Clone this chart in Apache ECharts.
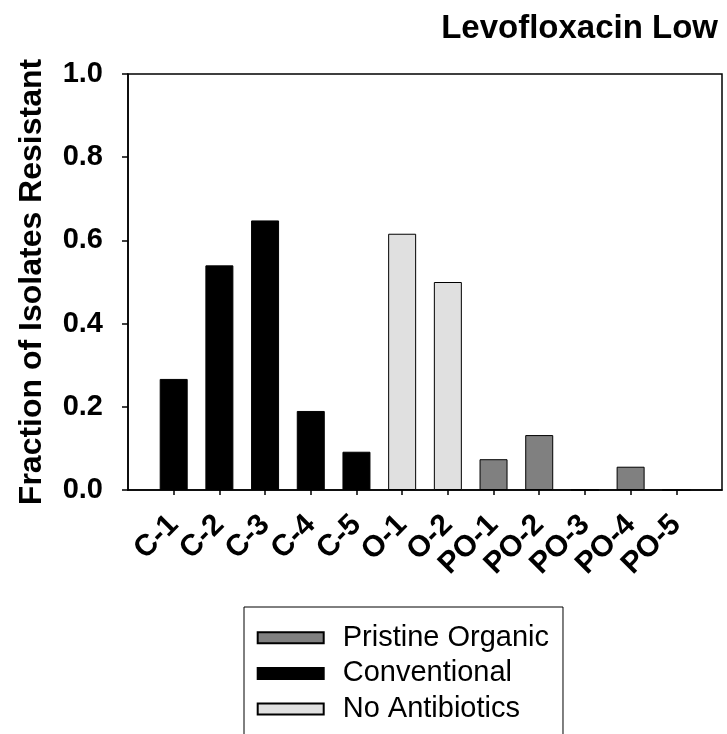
<!DOCTYPE html>
<html>
<head>
<meta charset="utf-8">
<script src="https://cdn.jsdelivr.net/npm/echarts@6/dist/echarts.min.js"></script>
<style>html,body{margin:0;padding:0;background:#fff}#c{width:727px;height:734px}</style>
</head>
<body>
<div id="c"></div>
<script>
var categories = ['C-1','C-2','C-3','C-4','C-5','O-1','O-2','PO-1','PO-2','PO-3','PO-4','PO-5'];
var groupOf = ['Conventional','Conventional','Conventional','Conventional','Conventional','No Antibiotics','No Antibiotics','Pristine Organic','Pristine Organic','Pristine Organic','Pristine Organic','Pristine Organic'];
var values = [0.267, 0.540, 0.648, 0.190, 0.092, 0.616, 0.500, 0.074, 0.132, 0, 0.056, 0];
var yTicks = [0, 0.2, 0.4, 0.6, 0.8, 1.0];
var groups = ['Pristine Organic','Conventional','No Antibiotics'];
var groupColors = {'Pristine Organic':'#808080','Conventional':'#000000','No Antibiotics':'#e0e0e0'};

var axisCats = [''].concat(categories).concat(['']);
var FONT = 'Liberation Sans, Arial, sans-serif';

var series = groups.map(function(g){
  var d = axisCats.map(function(c){
    var i = categories.indexOf(c);
    if (i < 0 || groupOf[i] !== g) return null;
    return values[i];
  });
  return {
    name: g, type: 'bar', stack: 'all', data: d, barWidth: 28,
    itemStyle: {color: groupColors[g], borderColor: '#000', borderWidth: 1}
  };
});

var chart = echarts.init(document.getElementById('c'));
chart.setOption({
  animation: false,
  backgroundColor: '#fff',
  title: {
    text: 'Levofloxacin Low', right: 4, top: 7,
    textStyle: {fontFamily: FONT, fontWeight: 'bold', fontSize: 33, color: '#000'}
  },
  grid: {left: 128, right: 5, top: 74, bottom: 244, show: true, borderColor: '#000', borderWidth: 1.5, backgroundColor: 'transparent'},
  legend: {
    orient: 'vertical', left: 244, top: 607, height: 300, data: groups,
    icon: 'rect',
    itemWidth: 66, itemHeight: 11, itemGap: 5.7,
    borderColor: '#000', borderWidth: 1, padding: [15.7, 14, 30, 12.7],
    textStyle: {fontFamily: FONT, fontSize: 29, color: '#000', lineHeight: 30, padding: [0,0,0,14]}
  },
  xAxis: {
    type: 'category', data: axisCats, boundaryGap: false,
    axisLine: {lineStyle: {color: '#000', width: 1.5}},
    axisTick: {length: 5, lineStyle: {color: '#000', width: 1.5}, interval: function(i, v){ return v !== ''; }},
    axisLabel: {interval: 0, rotate: 45, fontFamily: FONT, fontWeight: 'bold', fontSize: 30, color: '#000', margin: 30},
    splitLine: {show: false}
  },
  yAxis: {
    type: 'value', min: 0, max: 1, interval: 0.2,
    name: 'Fraction of Isolates Resistant', nameLocation: 'middle', nameGap: 80,
    nameTextStyle: {fontFamily: FONT, fontWeight: 'bold', fontSize: 32, color: '#000'},
    axisLine: {show: true, lineStyle: {color: '#000', width: 1.5}},
    axisTick: {show: true, length: 6, lineStyle: {color: '#000', width: 1.5}},
    axisLabel: {fontFamily: FONT, fontWeight: 'bold', fontSize: 29, color: '#000', margin: 25,
      formatter: function(v){ return v.toFixed(1); }},
    splitLine: {show: false}
  },
  series: series
});
</script>
</body>
</html>
